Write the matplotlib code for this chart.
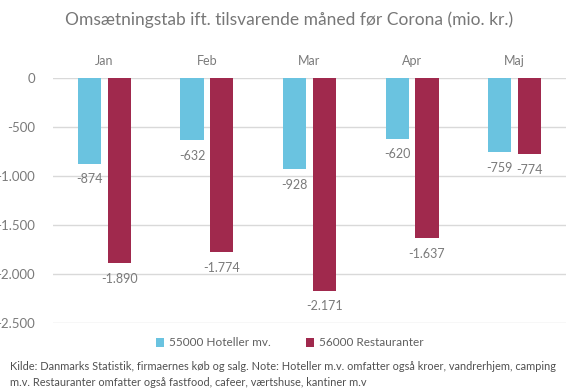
import numpy as np
import matplotlib.pyplot as plt

months = ['Jan', 'Feb', 'Mar', 'Apr', 'Maj']
hoteller = [-874, -632, -928, -620, -759]
restauranter = [-1890, -1774, -2171, -1637, -774]
series_names = ['55000 Hoteller mv.', '56000 Restauranter']
yticks = [0, -500, -1000, -1500, -2000, -2500]

blue = '#6ac3e0'
red = '#a0294d'
grey = '#7a7a7a'

plt.rcParams['font.family'] = ['Lato', 'DejaVu Sans']


def dk(v):
    return '{:,}'.format(v).replace(',', '.')


fig = plt.figure(figsize=(5.79, 3.91), dpi=100)
ax = fig.add_axes([53 / 579, 1 - 323 / 391, 513 / 579, 245 / 391])

x = np.arange(len(months))
w = 0.225
off = 0.145
b1 = ax.bar(x - off, hoteller, w, color=blue, label=series_names[0], zorder=3)
b2 = ax.bar(x + off, restauranter, w, color=red, label=series_names[1], zorder=3)

for bars, vals in [(b1, hoteller), (b2, restauranter)]:
    for b, v in zip(bars, vals):
        ax.annotate(dk(v), (b.get_x() + b.get_width() / 2, v), xytext=(0, -7),
                    textcoords='offset points', ha='center', va='top',
                    fontsize=9, color=grey, clip_on=False)

ax.set_xlim(-0.5, len(months) - 0.5)
ax.set_ylim(-2500, 0)
ax.set_yticks(yticks)
ax.set_yticklabels([dk(t) for t in yticks])
ax.yaxis.grid(True, color='#d9d9d9', linewidth=1, zorder=0)
ax.set_axisbelow(True)
ax.tick_params(axis='y', length=0, pad=13, labelsize=9.5, labelcolor=grey)

ax.xaxis.tick_top()
ax.set_xticks(x)
ax.set_xticklabels(months)
ax.tick_params(axis='x', length=0, pad=8, labelsize=9, labelcolor=grey)

for s in ax.spines.values():
    s.set_visible(False)

fig.text(0.5, 1 - 20 / 391, 'Omsætningstab ift. tilsvarende måned før Corona (mio. kr.)',
         ha='center', va='center', fontsize=12.5, color='#777777')

fig.legend(handles=[b1, b2], loc='center', bbox_to_anchor=(0.5, 1 - 343 / 391),
           ncol=2, frameon=False, fontsize=8.5, labelcolor='#606060',
           handlelength=0.7, handleheight=0.7, columnspacing=3, handletextpad=0.4)

fig.text(10 / 579, 1 - 366 / 391,
         'Kilde: Danmarks Statistik, firmaernes køb og salg. Note: Hoteller m.v. omfatter også kroer, vandrerhjem, camping',
         ha='left', va='center', fontsize=7.9, color='#505050')
fig.text(10 / 579, 1 - 382 / 391,
         'm.v. Restauranter omfatter også fastfood, cafeer, værtshuse, kantiner m.v',
         ha='left', va='center', fontsize=7.9, color='#505050')

fig.savefig('out.png', dpi=100)
